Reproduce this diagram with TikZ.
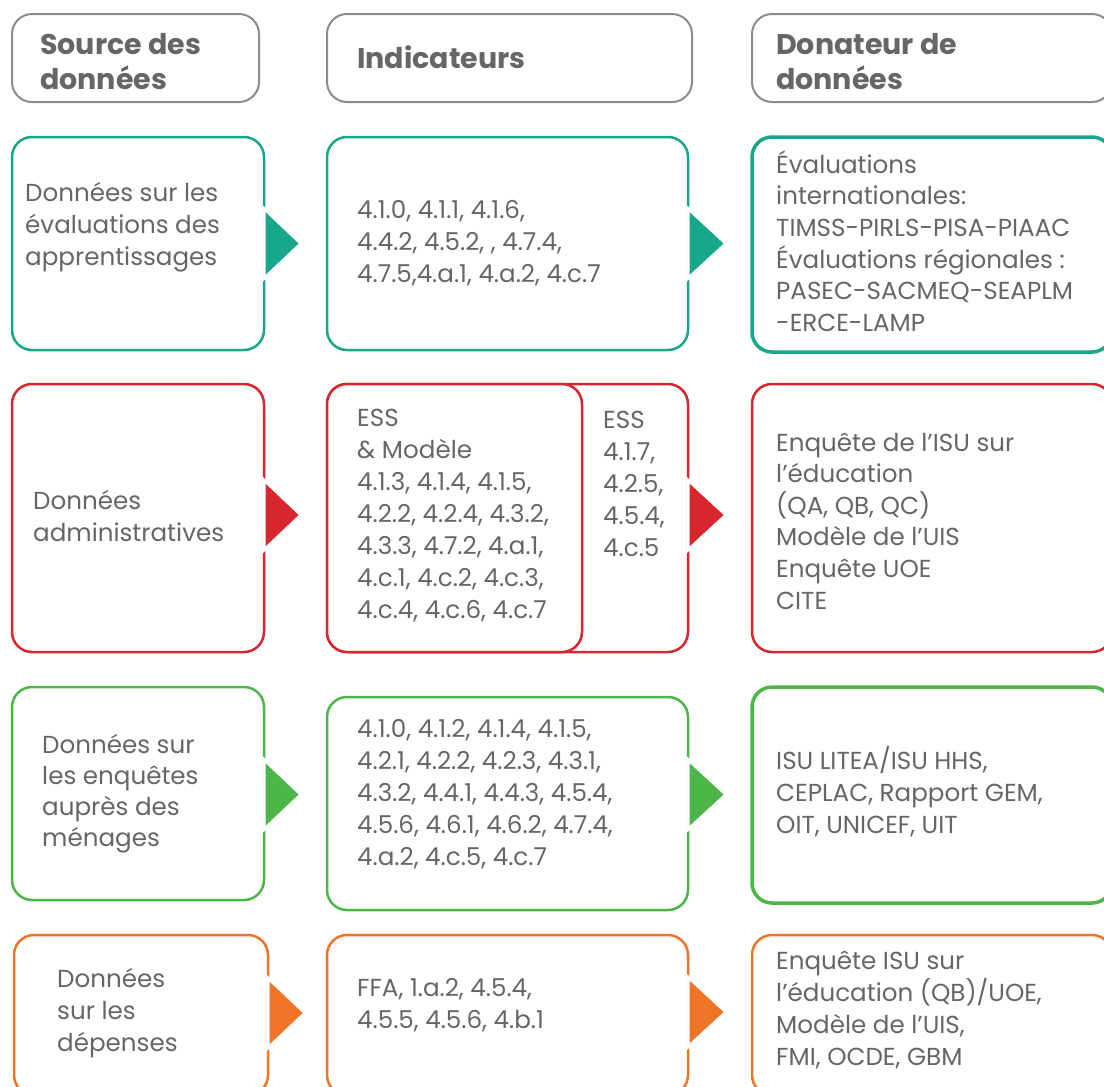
\documentclass[tikz,border=0pt]{standalone}
\usepackage{fontspec}
\setmainfont{Poppins}
\usetikzlibrary{calc}
\definecolor{cteal}{HTML}{17A88B}
\definecolor{cred}{HTML}{D7262E}
\definecolor{cgreen}{HTML}{4CB748}
\definecolor{corange}{HTML}{F07427}
\definecolor{hdrgray}{HTML}{8C8C8C}
\definecolor{txtgray}{HTML}{666666}
\tikzset{
  box/.style={draw, rounded corners=20pt, line width=2.5pt, fill=white, inner sep=0pt, outer sep=0pt, anchor=north west},
  hdr/.style={box, draw=hdrgray, line width=2pt},
  txt/.style={anchor=west, align=left, inner sep=0pt, text=txtgray, font=\fontsize{24.6}{32}\selectfont},
  htxt/.style={txt, font=\fontsize{28.5}{35}\selectfont\bfseries},
  tri/.style={draw=white, line width=3pt, line join=miter}
}
\newcommand{\arrowtri}[3]{% color, base point, length
  \filldraw[tri, fill=#1] ($#2+(0,-35)$) -- ($#2+(#3,0)$) -- ($#2+(0,35)$) -- cycle;}
\begin{document}
\begin{tikzpicture}[x=1pt,y=-1pt]
\useasboundingbox (0,0) rectangle (1104,1087);
\clip (0,0) rectangle (1104,1087);
\fill[white] (0,0) rectangle (1104,1087);

% headers
\node[hdr, minimum width=247pt, minimum height=88pt] (h1) at (12,14) {};
\node[hdr, minimum width=365pt, minimum height=88pt] (h2) at (327,14) {};
\node[hdr, minimum width=360pt, minimum height=88pt] (h3) at (752,14) {};
\node[htxt] (th1) at (40,62) {Source des\\données};
\node[htxt] (th2) at (357,57) {Indicateurs};
\node[htxt] (th3) at (776,62) {Donateur de\\données};

% row 1 (teal)
\node[box, draw=cteal, minimum width=252pt, minimum height=213pt] (l1) at (12,137) {};
\node[box, draw=cteal, minimum width=361pt, minimum height=213pt] (m1) at (327,137) {};
\node[box, draw=cteal, line width=3.5pt, minimum width=360pt, minimum height=215pt] (r1) at (752,137) {};
\arrowtri{cteal}{(l1.east)}{37}
\arrowtri{cteal}{(m1.east |- l1.east)}{38}
\node[txt] (tl1) at (25,227) {Données sur les\\évaluations des\\apprentissages};
\node[txt] (tm1) at (357,243) {4.1.0, 4.1.1, 4.1.6,\\4.4.2, 4.5.2, , 4.7.4,\\4.7.5,4.a.1, 4.a.2, 4.c.7};
\node[txt, font=\fontsize{24.6}{31.6}\selectfont] (tr1) at (776,241) {Évaluations\\internationales:\\TIMSS-PIRLS-PISA-PIAAC\\Évaluations régionales :\\PASEC-SACMEQ-SEAPLM\\-ERCE-LAMP};

% row 2 (red)
\node[box, draw=cred, minimum width=252pt, minimum height=268pt] (l2) at (12,384) {};
\node[box, draw=cred, minimum width=361pt, minimum height=268pt] (m2) at (327,384) {};
\node[box, draw=cred, minimum width=255pt, minimum height=268pt] (m2a) at (327,384) {};
\node[box, draw=cred, minimum width=360pt, minimum height=268pt] (r2) at (752,384) {};
\arrowtri{cred}{($(l2.east)+(0,-3)$)}{37}
\arrowtri{cred}{($(m2.east)+(0,-3)$)}{38}
\node[txt] (tl2) at (33,516) {Données\\administratives};
\node[txt] (tm2a) at (357,516) {ESS\\\& Modèle\\4.1.3, 4.1.4, 4.1.5,\\4.2.2, 4.2.4, 4.3.2,\\4.3.3, 4.7.2, 4.a.1,\\4.c.1, 4.c.2, 4.c.3,\\4.c.4, 4.c.6, 4.c.7};
\node[txt] (tm2b) at (603,484) {ESS\\4.1.7,\\4.2.5,\\4.5.4,\\4.c.5};
\node[txt, font=\fontsize{24.6}{31.6}\selectfont] (tr2) at (776,521) {Enquête de l’ISU sur\\l’éducation\\(QA, QB, QC)\\Modèle de l’UIS\\Enquête UOE\\CITE};

% row 3 (green)
\node[box, draw=cgreen, minimum width=252pt, minimum height=213pt] (l3) at (12,687) {};
\node[box, draw=cgreen, minimum width=361pt, minimum height=213pt] (m3) at (327,697) {};
\node[box, draw=cgreen, line width=3.5pt, minimum width=360pt, minimum height=216pt] (r3) at (752,687) {};
\arrowtri{cgreen}{($(l3.east)+(0,1)$)}{37}
\arrowtri{cgreen}{($(m3.east |- l3.east)+(0,1)$)}{38}
\node[txt, font=\fontsize{24.6}{31}\selectfont] (tl3) at (42,794) {Données sur\\les enquêtes\\auprès des\\ménages};
\node[txt] (tm3) at (357,794) {4.1.0, 4.1.2, 4.1.4, 4.1.5,\\4.2.1, 4.2.2, 4.2.3, 4.3.1,\\4.3.2, 4.4.1, 4.4.3, 4.5.4,\\4.5.6, 4.6.1, 4.6.2, 4.7.4,\\4.a.2, 4.c.5, 4.c.7};
\node[txt] (tr3) at (776,792) {ISU LITEA/ISU HHS,\\CEPLAC, Rapport GEM,\\OIT, UNICEF, UIT};

% row 4 (orange)
\node[box, draw=corange, minimum width=254pt, minimum height=160pt] (l4) at (14,935) {};
\node[box, draw=corange, minimum width=361pt, minimum height=160pt] (m4) at (327,935) {};
\node[box, draw=corange, minimum width=360pt, minimum height=160pt] (r4) at (752,935) {};
\arrowtri{corange}{($(l4.east)+(0,-2)$)}{37}
\arrowtri{corange}{($(m4.east)+(0,-3)$)}{38}
\node[txt] (tl4) at (57,1013) {Données\\sur les\\dépenses};
\node[txt] (tm4) at (357,1005) {FFA, 1.a.2, 4.5.4,\\4.5.5, 4.5.6, 4.b.1};
\node[txt] (tr4) at (776,1010) {Enquête ISU sur\\l’éducation (QB)/UOE,\\Modèle de l’UIS,\\FMI, OCDE, GBM};
\end{tikzpicture}
\end{document}
